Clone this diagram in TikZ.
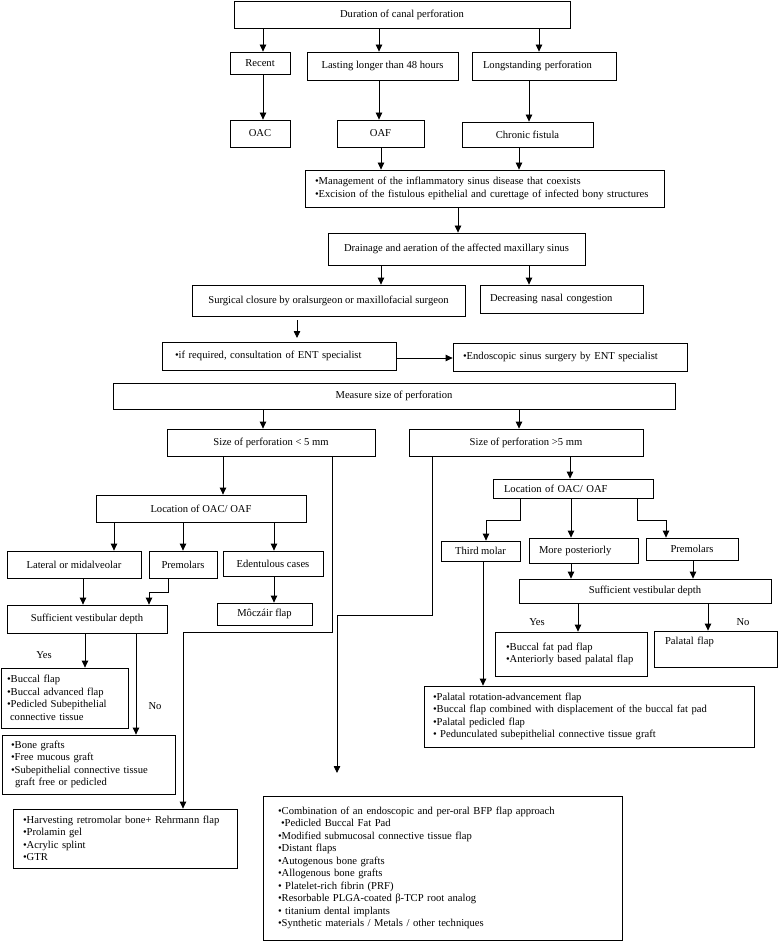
\documentclass[tikz,border=0pt]{standalone}
\usepackage{fontspec}
\setmainfont{Liberation Serif}
\usetikzlibrary{arrows.meta,calc}
\begin{document}
\begin{tikzpicture}[x=1pt,y=-1pt,
  every node/.style={font=\fontsize{10.6}{12.5}\selectfont},
  cbox/.style={draw, line width=0.8pt, inner sep=0pt, align=center},
  lbox/.style={draw, line width=0.8pt, inner ysep=0pt, inner xsep=10pt, align=left},
  arr/.style={line width=0.8pt, -{Triangle[length=7pt,width=6.5pt]}},
  lab/.style={inner sep=0pt}]
\useasboundingbox (0,0) rectangle (778,941);
% ---------- nodes ----------
\node[cbox, minimum width=336pt, minimum height=27pt] (dur) at (402,14.5) {Duration of canal perforation};
\node[cbox, minimum width=60pt, minimum height=22pt] (recent) at (260,63) {Recent};
\node[cbox, minimum width=151pt, minimum height=28pt] (lasting) at (382.5,66) {Lasting longer than 48 hours};
\node[lbox, inner xsep=11pt, text width=122pt, minimum height=28pt] (longst) at (544,66) {Longstanding perforation};
\node[cbox, minimum width=60pt, minimum height=27pt] (oac) at (260,133.5) {OAC};
\node[cbox, minimum width=87pt, minimum height=27pt] (oaf) at (380.5,133.5) {OAF};
\node[cbox, minimum width=131pt, minimum height=25pt] (chronic) at (527.5,134.5) {Chronic fistula};
\node[lbox, inner xsep=10pt, text width=339pt, minimum height=37pt] (mgmt) at (484.5,188.5) {•Management of the inflammatory sinus disease that coexists\\•Excision of the fistulous epithelial and curettage of infected bony structures};
\node[cbox, minimum width=257pt, minimum height=32pt] (drain) at (456.5,249) {Drainage and aeration of the affected maxillary sinus};
\node[cbox, minimum width=273pt, minimum height=31pt] (surg) at (328.5,300.5) {Surgical closure by oralsurgeon or maxillofacial surgeon};
\node[lbox, text width=143pt, minimum height=28pt] (decr) at (561.5,299) {Decreasing nasal congestion};
\node[lbox, inner xsep=13pt, text width=208pt, minimum height=28pt] (ent) at (279,356) {•if required, consultation of ENT specialist};
\node[lbox, text width=214pt, minimum height=28pt] (endo) at (570,357) {•Endoscopic sinus surgery by ENT specialist};
\node[cbox, minimum width=562pt, minimum height=26pt] (meas) at (394,396) {Measure size of perforation};
\node[cbox, minimum width=208pt, minimum height=27pt] (lt5) at (271,442.5) {Size of perforation < 5 mm};
\node[cbox, minimum width=234pt, minimum height=27pt] (gt5) at (526,442.5) {Size of perforation >5 mm};
% left branch
\node[cbox, minimum width=210pt, minimum height=27pt] (loca) at (201,508.5) {Location of OAC/ OAF};
\node[cbox, minimum width=134pt, minimum height=27pt] (lat) at (74,564.5) {Lateral or midalveolar};
\node[cbox, minimum width=68pt, minimum height=27pt] (prea) at (183,564.5) {Premolars};
\node[cbox, minimum width=100pt, minimum height=25pt] (eden) at (273,563.5) {Edentulous cases};
\node[cbox, minimum width=95pt, minimum height=22pt] (moc) at (264.5,614) {Môczáir flap};
\node[cbox, minimum width=160pt, minimum height=28pt] (sufa) at (87,619) {Sufficient vestibular depth};
\node[lbox, inner xsep=6pt, text width=115pt, minimum height=60pt] (buc) at (64.5,698) {•Buccal flap\\•Buccal advanced flap\\•Pedicled Subepithelial\\\hspace*{3pt}connective tissue};
\node[lbox, inner xsep=9pt, text width=155pt, minimum height=59pt] (bone) at (88.5,764.5) {•Bone grafts\\•Free mucous graft\\•Subepithelial connective tissue\\\hspace*{4pt}graft free or pedicled};
\node[lbox, inner xsep=10pt, text width=204pt, minimum height=59pt] (harv) at (125,838.5) {•Harvesting retromolar bone+ Rehrmann flap\\•Prolamin gel\\•Acrylic splint\\•GTR};
% right branch
\node[lbox, inner xsep=11pt, text width=138pt, minimum height=19pt] (locb) at (573,488.5) {Location of OAC/ OAF};
\node[cbox, minimum width=79pt, minimum height=20pt] (third) at (480.5,551) {Third molar};
\node[lbox, text width=89pt, minimum height=25pt] (more) at (583.5,550.5) {More posteriorly};
\node[cbox, minimum width=92pt, minimum height=22pt] (preb) at (692,549) {Premolars};
\node[cbox, minimum width=252pt, minimum height=24pt] (sufb) at (645,591) {Sufficient vestibular depth};
\node[lbox, inner xsep=11pt, text width=130pt, minimum height=44pt] (bfp) at (571,654) {•Buccal fat pad flap\\•Anteriorly based palatal flap};
\node[lbox, inner xsep=11pt, text width=101pt, text height=10pt, text depth=19pt, inner ysep=3.5pt] (pal) at (715.5,649) {Palatal flap};
\node[lbox, inner xsep=9pt, text width=312pt, minimum height=61pt] (palrot) at (589,716.5) {•Palatal rotation-advancement flap\\•Buccal flap combined with displacement of the buccal fat pad\\•Palatal pedicled flap\\•\ Pedunculated subepithelial connective tissue graft};
\node[lbox, inner xsep=15pt, text width=329pt, minimum height=144pt] (big) at (442.5,868) {•Combination of an endoscopic and per-oral BFP flap approach\\\hspace*{3pt}•Pedicled Buccal Fat Pad\\•Modified submucosal connective tissue flap\\•Distant flaps\\•Autogenous bone grafts\\•Allogenous bone grafts\\•\ Platelet-rich fibrin (PRF)\\•Resorbable PLGA-coated β-TCP root analog\\•\ titanium dental implants\\•Synthetic materials / Metals / other techniques};
% labels
\node[lab] (yesa) at (44,655) {Yes};
\node[lab] (noa) at (155,706) {No};
\node[lab] (yesb) at (537,622) {Yes};
\node[lab] (nob) at (743,622) {No};
% free coordinates
\coordinate (fa) at (297,320);
\coordinate (fb) at (297,338);
\coordinate (gtend) at (337,773);
% ---------- connectors ----------
\draw[arr] (dur.south -| 263,0) -- (recent.north -| 263,0);
\draw[arr] (dur.south -| 379,0) -- (lasting.north -| 379,0);
\draw[arr] (dur.south -| 539,0) -- (longst.north -| 539,0);
\draw[arr] (recent.south -| 263,0) -- (oac.north -| 263,0);
\draw[arr] (lasting.south -| 379,0) -- (oaf.north -| 379,0);
\draw[arr] (longst.south -| 529,0) -- (chronic.north -| 529,0);
\draw[arr] (oaf.south -| 381,0) -- (mgmt.north -| 381,0);
\draw[arr] (chronic.south -| 519,0) -- (mgmt.north -| 519,0);
\draw[arr] (mgmt.south -| 458,0) -- (drain.north -| 458,0);
\draw[arr] (drain.south -| 381,0) -- (surg.north -| 381,0);
\draw[arr] (drain.south -| 529,0) -- (decr.north -| 529,0);
\draw[arr] (fa) -- (fb);
\draw[arr] (ent.east |- 0,358) -- (endo.west |- 0,358);
\draw[arr] (meas.south -| 263,0) -- (lt5.north -| 263,0);
\draw[arr] (meas.south -| 519,0) -- (gt5.north -| 519,0);
% left branch
\draw[arr] (lt5.south -| 223,0) -- (loca.north -| 223,0);
\draw[arr] (lt5.south -| 332,0) -- (332,632) -- (183,632) -- (harv.north -| 183,0);
\draw[arr] (loca.south -| 114,0) -- (lat.north -| 114,0);
\draw[arr] (loca.south -| 183,0) -- (prea.north -| 183,0);
\draw[arr] (loca.south -| 274,0) -- (eden.north -| 274,0);
\draw[arr] (lat.south -| 83,0) -- (sufa.north -| 83,0);
\draw[arr] (prea.south -| 168,0) -- (168,592) -- (149,592) -- (sufa.north -| 149,0);
\draw[arr] (eden.south -| 274,0) -- (moc.north -| 274,0);
\draw[arr] (sufa.south -| 85,0) -- (buc.north -| 85,0);
\draw[arr] (sufa.south -| 136,0) -- (bone.north -| 136,0);
% right branch
\draw[arr] (gt5.south -| 570,0) -- (locb.north -| 570,0);
\draw[arr] (gt5.south -| 432,0) -- (432,615) -- (337,615) -- (gtend);
\draw[arr] (locb.south -| 520,0) -- (520,520) -- (486,520) -- (third.north -| 486,0);
\draw[arr] (locb.south -| 571,0) -- (more.north -| 571,0);
\draw[arr] (locb.south -| 637,0) -- (637,520) -- (666,520) -- (preb.north -| 666,0);
\draw[arr] (more.south -| 571,0) -- (sufb.north -| 571,0);
\draw[arr] (preb.south -| 693,0) -- (sufb.north -| 693,0);
\draw[arr] (sufb.south -| 578,0) -- (bfp.north -| 578,0);
\draw[arr] (sufb.south -| 708,0) -- (pal.north -| 708,0);
\draw[arr] (third.south -| 483,0) -- (palrot.north -| 483,0);
\end{tikzpicture}
\end{document}
